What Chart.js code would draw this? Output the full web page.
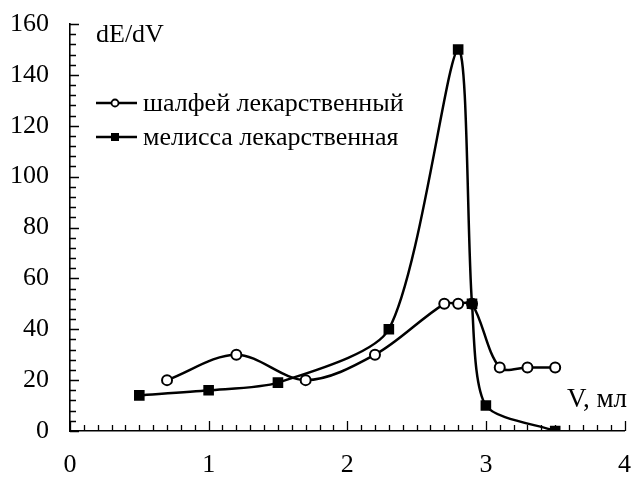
<!DOCTYPE html>
<html>
<head>
<meta charset="utf-8">
<script src="https://cdn.jsdelivr.net/npm/chart.js@4.4.1/dist/chart.umd.min.js"></script>
<style>
  html, body { margin: 0; padding: 0; background: #fff; }
</style>
</head>
<body>
<canvas id="myChart" width="632" height="478"></canvas>
<script>
// данные
const sageX = [0.7, 1.2, 1.7, 2.2, 2.7, 2.8, 2.9, 3.1, 3.3, 3.5];
const sageY = [20, 30, 20, 30, 50, 50, 50, 25, 25, 25];
const melissaX = [0.5, 1.0, 1.5, 2.3, 2.8, 2.9, 3.0, 3.5];
const melissaY = [14, 16, 19, 40, 150, 50, 10, 0];

const sageLabel = 'шалфей лекарственный';
const melissaLabel = 'мелисса лекарственная';
const yTitle = 'dE/dV';
const xTitle = 'V, мл';

const FONT = "'Liberation Serif', serif";

function toPoints(xs, ys) {
    return xs.map((x, i) => ({ x: x, y: ys[i] }));
}

// засечки внутрь области графика
const innerTicks = {
    id: 'innerTicks',
    beforeDatasetsDraw(chart) {
        const ctx = chart.ctx;
        const xs = chart.scales.x, ys = chart.scales.y;
        const area = chart.chartArea;
        ctx.save();
        ctx.strokeStyle = '#000';
        ctx.lineWidth = 1.3;
        ctx.beginPath();
        for (let i = 0; i <= 40; i++) {
            const px = Math.round(xs.getPixelForValue(i / 10)) + 0.5;
            const len = i % 10 === 0 ? 10 : 6;
            ctx.moveTo(px, area.bottom);
            ctx.lineTo(px, area.bottom - len);
        }
        for (let v = 0; v <= 160; v += 4) {
            const py = Math.round(ys.getPixelForValue(v)) + 0.5;
            const len = v % 20 === 0 ? 9 : 6;
            ctx.moveTo(area.left, py);
            ctx.lineTo(area.left + len, py);
        }
        ctx.stroke();
        ctx.restore();
    }
};

// подписи осей и легенда внутри графика
const labelsAndLegend = {
    id: 'labelsAndLegend',
    afterDraw(chart) {
        const ctx = chart.ctx;
        ctx.save();
        ctx.fillStyle = '#000';
        ctx.textBaseline = 'alphabetic';
        ctx.font = '26px ' + FONT;
        ctx.textAlign = 'left';
        ctx.fillText(yTitle, 96, 42);
        ctx.font = '27px ' + FONT;
        ctx.textAlign = 'right';
        ctx.fillText(xTitle, 627, 407);

        ctx.textAlign = 'left';
        ctx.textBaseline = 'middle';
        ctx.font = '26px ' + FONT;
        const rows = [
            { text: sageLabel, y: 103, marker: 'circle' },
            { text: melissaLabel, y: 137, marker: 'square' }
        ];
        rows.forEach(r => {
            ctx.strokeStyle = '#000';
            ctx.lineWidth = 2.5;
            ctx.beginPath();
            ctx.moveTo(96, r.y);
            ctx.lineTo(137, r.y);
            ctx.stroke();
            if (r.marker === 'circle') {
                ctx.fillStyle = '#fff';
                ctx.lineWidth = 1.8;
                ctx.beginPath();
                ctx.arc(115, r.y, 3.5, 0, Math.PI * 2);
                ctx.fill();
                ctx.stroke();
            } else {
                ctx.fillStyle = '#000';
                ctx.fillRect(111, r.y - 4, 8, 8);
            }
            ctx.fillStyle = '#000';
            ctx.fillText(r.text, 143, r.y + 1);
        });
        ctx.restore();
    }
};

const ctx = document.getElementById('myChart').getContext('2d');

const chart = new Chart(ctx, {
    type: 'line',
    data: {
        datasets: [
            {
                label: melissaLabel,
                data: toPoints(melissaX, melissaY),
                borderColor: '#000',
                borderWidth: 2.5,
                backgroundColor: '#000',
                pointStyle: 'rect',
                pointRadius: 7.5,
                pointBorderWidth: 0,
                tension: 0.25,
                fill: false,
                order: 0
            },
            {
                label: sageLabel,
                data: toPoints(sageX, sageY),
                borderColor: '#000',
                borderWidth: 2.5,
                backgroundColor: '#fff',
                pointStyle: 'circle',
                pointRadius: 5,
                pointBorderWidth: 2,
                tension: 0.33,
                fill: false,
                order: 1
            }
        ]
    },
    options: {
        responsive: false,
        animation: false,
        layout: { padding: { top: 24, right: 7, left: 0, bottom: 0 } },
        plugins: {
            legend: { display: false },
            tooltip: { enabled: false }
        },
        scales: {
            x: {
                type: 'linear',
                min: 0,
                max: 4,
                ticks: {
                    stepSize: 1,
                    color: '#000',
                    font: { family: FONT, size: 26 },
                    padding: 0
                },
                // прозрачные засечки дают отступ подписей без лишнего поля
                grid: { drawOnChartArea: false, drawTicks: true, tickLength: 19, tickColor: 'rgba(0,0,0,0)' },
                border: { display: true, color: '#000', width: 1.6 },
                afterFit(scale) { scale.height = 47; }
            },
            y: {
                min: 0,
                max: 160,
                ticks: {
                    stepSize: 20,
                    color: '#000',
                    font: { family: FONT, size: 26 },
                    padding: 0
                },
                grid: { drawOnChartArea: false, drawTicks: true, tickLength: 21, tickColor: 'rgba(0,0,0,0)' },
                border: { display: true, color: '#000', width: 1.6 },
                afterFit(scale) { scale.width = 70; }
            }
        }
    },
    plugins: [innerTicks, labelsAndLegend]
});
</script>
</body>
</html>
